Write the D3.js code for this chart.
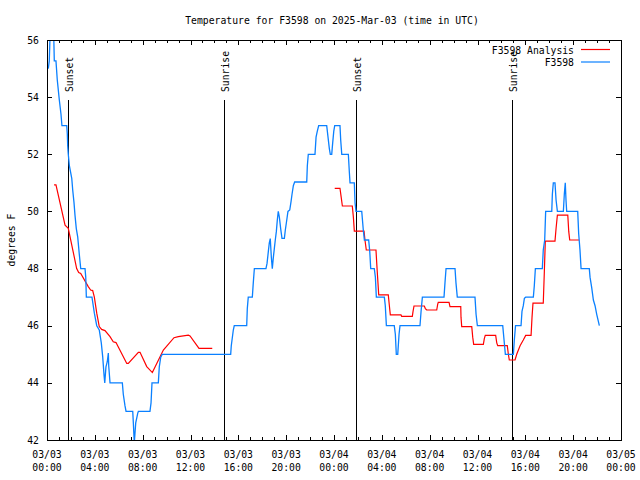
<!DOCTYPE html>
<html>
<head>
<meta charset="utf-8">
<script src="https://cdn.jsdelivr.net/npm/d3@7"></script>
<style>
  body { margin: 0; background: #fff; }
  svg { display: block; }
  text { font-family: "DejaVu Sans Mono", "Liberation Mono", monospace; font-size: 9.75px; fill: #000; }
</style>
</head>
<body>
<svg id="chart"></svg>
<script>
// station observations, [hours after 2025-03-03 00:00 UTC, deg F]
const observed = [
  [0.11,55.0],[0.19,55.27],[0.29,56.6],[0.54,56.6],[0.61,55.27],[0.75,55.27],[0.86,54.6],[1.03,53.9],
  [1.17,53.4],[1.25,53.0],[1.65,53.0],[1.70,52.7],[1.73,52.3],[1.78,52.0],[1.87,51.6],[2.07,51.16],
  [2.15,50.75],[2.26,50.3],[2.34,49.87],[2.45,49.4],[2.57,49.1],[2.70,48.5],[2.82,48.0],[3.18,48.0],
  [3.24,47.7],[3.29,47.0],[3.76,47.0],[3.96,46.44],[4.16,46.0],[4.37,45.85],[4.54,45.4],[4.66,44.9],
  [4.77,44.27],[4.83,44.0],[4.93,44.56],[5.04,44.74],[5.13,45.04],[5.16,44.6],[5.27,44.0],[6.30,44.0],
  [6.38,43.6],[6.52,43.2],[6.61,43.0],[7.17,43.0],[7.22,42.6],[7.30,41.9],[7.42,42.6],[7.59,42.94],
  [7.64,43.0],[8.61,43.0],[8.70,43.3],[8.78,44.0],[9.31,44.0],[9.39,44.56],[9.51,44.9],[9.64,45.0],
  [15.36,45.0],[15.41,45.3],[15.58,45.85],[15.66,46.0],[16.70,46.0],[16.75,46.6],[16.83,47.0],[17.17,47.0],
  [17.25,47.5],[17.34,48.0],[18.31,48.0],[18.40,48.18],[18.51,48.6],[18.59,48.9],[18.67,49.05],[18.76,48.4],
  [18.84,48.0],[18.93,48.4],[19.01,48.7],[19.09,49.0],[19.18,49.3],[19.26,49.7],[19.34,50.0],[19.43,49.8],
  [19.54,49.4],[19.65,49.06],[19.85,49.06],[19.93,49.35],[20.05,49.7],[20.15,50.0],[20.30,50.05],[20.41,50.35],
  [20.49,50.6],[20.60,50.9],[20.71,51.03],[21.72,51.03],[21.77,51.6],[21.85,52.0],[22.41,52.0],[22.50,52.6],
  [22.60,52.8],[22.72,53.0],[23.39,53.0],[23.50,52.6],[23.61,52.2],[23.69,52.0],[23.81,52.0],[23.89,52.4],
  [23.98,52.8],[24.06,53.0],[24.50,53.0],[24.56,52.5],[24.65,52.0],[25.20,52.0],[25.28,51.4],[25.34,51.0],
  [25.70,51.0],[25.76,50.3],[25.84,50.0],[26.32,50.0],[26.45,49.35],[26.54,49.0],[26.90,49.0],[26.99,48.6],
  [27.07,48.0],[27.37,48.0],[27.46,47.7],[27.54,47.0],[28.21,47.0],[28.29,46.7],[28.38,46.0],[29.04,46.0],
  [29.13,45.7],[29.21,45.0],[29.33,45.0],[29.44,45.7],[29.52,46.0],[31.19,46.0],[31.28,46.5],[31.39,47.0],
  [33.20,47.0],[33.28,47.5],[33.37,48.0],[34.12,48.0],[34.20,47.5],[34.31,47.0],[35.79,47.0],[35.88,46.4],
  [35.99,46.0],[38.11,46.0],[38.22,45.5],[38.33,45.0],[39.00,45.0],[39.08,45.5],[39.18,46.0],[39.64,46.0],
  [39.72,46.5],[39.83,46.7],[39.92,46.96],[40.03,47.0],[40.67,47.0],[40.75,47.4],[40.84,48.0],[41.42,48.0],
  [41.50,48.65],[41.62,49.0],[41.70,50.0],[42.21,50.0],[42.26,50.6],[42.34,51.0],[42.48,51.0],[42.57,50.4],
  [42.68,50.0],[43.18,50.0],[43.26,50.6],[43.34,51.0],[43.40,50.4],[43.46,50.0],[44.38,50.0],[44.46,49.23],
  [44.57,48.65],[44.66,48.0],[45.35,48.0],[45.41,47.7],[45.55,47.33],[45.69,46.9],[45.83,46.7],[45.97,46.4],
  [46.19,46.0]
];

// analysis, null = no data
const analysis = [
  [0.59,50.93],[0.75,50.93],[1.51,49.52],[1.78,49.41],[2.48,48.0],[2.65,47.86],[2.82,47.83],[3.45,47.37],
  [3.65,47.25],[3.82,47.23],[3.96,47.0],[4.16,46.44],[4.37,45.97],[4.57,45.87],[4.85,45.83],[5.27,45.62],
  [5.54,45.44],[5.77,45.41],[6.67,44.68],[6.80,44.68],[7.64,45.07],[7.78,45.07],[8.34,44.57],[8.81,44.36],
  [9.73,45.15],[10.62,45.58],[10.98,45.62],[11.82,45.67],[11.96,45.64],[12.71,45.21],[13.82,45.21],
  [18.0,null],
  [24.06,50.81],[24.50,50.81],[24.60,50.5],[24.70,50.19],[25.53,50.19],[25.62,49.8],[25.70,49.31],[26.51,49.31],
  [26.59,49.0],[26.70,48.65],[27.51,48.65],[27.60,48.0],[27.74,47.08],[28.54,47.08],[28.63,46.7],[28.71,46.38],
  [29.60,46.38],[29.66,46.33],[30.55,46.33],[30.61,46.5],[30.69,46.69],[31.55,46.69],[31.64,46.6],[31.75,46.55],
  [32.59,46.55],[32.67,46.75],[32.72,46.82],[33.62,46.82],[33.70,46.67],[34.60,46.67],[34.62,46.3],[34.68,45.97],
  [35.52,45.97],[35.60,45.6],[35.68,45.35],[36.49,45.35],[36.57,45.55],[36.65,45.66],[37.52,45.66],[37.61,45.4],
  [37.69,45.3],[38.49,45.3],[38.58,45.0],[38.66,44.8],[39.14,44.8],[39.28,45.0],[39.56,45.3],[39.83,45.5],
  [40.03,45.66],[40.48,45.66],[40.56,46.3],[40.64,46.79],[41.50,46.79],[41.59,47.9],[41.67,48.96],[42.48,48.96],
  [42.57,49.4],[42.68,49.87],[43.55,49.87],[43.63,49.3],[43.71,49.0],[44.49,49.0]
];

const sunHours = [1.78, 14.83, 25.87, 38.91];
const sunLabels = ["Sunset", "Sunrise", "Sunset", "Sunrise"];
const yTicks = [42, 44, 46, 48, 50, 52, 54, 56];
const seriesNames = ["F3598 Analysis", "F3598"];
const seriesColors = ["#ff0000", "#0a80ff"];
const titleText = "Temperature for F3598 on 2025-Mar-03 (time in UTC)";
const yLabel = "degrees F";

const t0 = Date.UTC(2025, 2, 3, 0, 0);
const toDate = (h) => new Date(t0 + h * 3600000);

const margin = { top: 40, right: 19, bottom: 40, left: 47 };
const width = 640 - margin.left - margin.right;
const height = 480 - margin.top - margin.bottom;

const root = d3.select("#chart").attr("width", 640).attr("height", 480);
const svg = root.append("g").attr("transform", `translate(${margin.left},${margin.top})`);

const x = d3.scaleUtc().domain([toDate(0), toDate(48)]).range([0, width]);
const y = d3.scaleLinear().domain([42, 56]).range([height, 0]);

// title + y label
root.append("text")
  .attr("x", 332).attr("y", 20)
  .attr("text-anchor", "middle").attr("dominant-baseline", "central")
  .text(titleText);

root.append("text")
  .attr("transform", `translate(11,${margin.top + height / 2}) rotate(-90)`)
  .attr("text-anchor", "middle").attr("dominant-baseline", "central")
  .text(yLabel);

// ticks (inward, mirrored)
const ticks = svg.append("g").attr("stroke", "#000").attr("shape-rendering", "crispEdges");
const hours = d3.utcHour.range(toDate(0), toDate(48.01));
hours.forEach((d) => {
  const len = d.getUTCHours() % 4 === 0 ? 5 : 3;
  const px = Math.round(x(d)) + 0.5;
  ticks.append("line").attr("x1", px).attr("x2", px).attr("y1", height).attr("y2", height - len);
  ticks.append("line").attr("x1", px).attr("x2", px).attr("y1", 0).attr("y2", len);
});
yTicks.forEach((v) => {
  const py = Math.round(y(v)) + 0.5;
  ticks.append("line").attr("x1", 0).attr("x2", 5).attr("y1", py).attr("y2", py);
  ticks.append("line").attr("x1", width).attr("x2", width - 5).attr("y1", py).attr("y2", py);
});

// tick labels
svg.selectAll(".ylab").data(yTicks).enter().append("text")
  .attr("x", -8).attr("y", (d) => y(d))
  .attr("text-anchor", "end").attr("dominant-baseline", "central")
  .text((d) => d);

const fmtDay = d3.utcFormat("%m/%d");
const fmtTime = d3.utcFormat("%H:%M");
const xl = svg.selectAll(".xlab").data(d3.utcHour.every(4).range(toDate(0), toDate(48.01)))
  .enter().append("text").attr("text-anchor", "middle");
xl.append("tspan").attr("x", (d) => x(d)).attr("y", height + 14).attr("dominant-baseline", "central").text(fmtDay);
xl.append("tspan").attr("x", (d) => x(d)).attr("y", height + 27).attr("dominant-baseline", "central").text(fmtTime);

// sunrise / sunset markers
sunHours.forEach((h, i) => {
  const px = Math.round(x(toDate(h))) + 0.5;
  svg.append("line")
    .attr("x1", px).attr("x2", px).attr("y1", height * 0.15).attr("y2", height)
    .attr("stroke", "#000").attr("shape-rendering", "crispEdges");
  svg.append("text")
    .attr("transform", `translate(${px + 0.5},${height * 0.15 - 8}) rotate(-90)`)
    .attr("text-anchor", "start").attr("dominant-baseline", "central")
    .text(sunLabels[i]);
});

// data lines
svg.append("clipPath").attr("id", "plot-clip")
  .append("rect").attr("width", width).attr("height", height);

const line = d3.line()
  .defined((d) => d[1] !== null)
  .x((d) => x(toDate(d[0])))
  .y((d) => y(d[1]));

svg.append("path").datum(analysis)
  .attr("clip-path", "url(#plot-clip)")
  .attr("fill", "none").attr("stroke", seriesColors[0]).attr("stroke-width", 1.2)
  .attr("d", line);

svg.append("path").datum(observed)
  .attr("clip-path", "url(#plot-clip)")
  .attr("fill", "none").attr("stroke", seriesColors[1]).attr("stroke-width", 1.3)
  .attr("d", line);

// border
svg.append("rect").attr("width", width).attr("height", height)
  .attr("fill", "none").attr("stroke", "#000").attr("shape-rendering", "crispEdges");

// legend
seriesNames.forEach((name, i) => {
  const ly = 10 + i * 12.5;
  svg.append("text")
    .attr("x", 527).attr("y", ly)
    .attr("text-anchor", "end").attr("dominant-baseline", "central")
    .text(name);
  svg.append("line")
    .attr("x1", 534).attr("x2", 563).attr("y1", ly - 0.5).attr("y2", ly - 0.5)
    .attr("stroke", seriesColors[i]).attr("stroke-width", 1.2);
});
</script>
</body>
</html>
